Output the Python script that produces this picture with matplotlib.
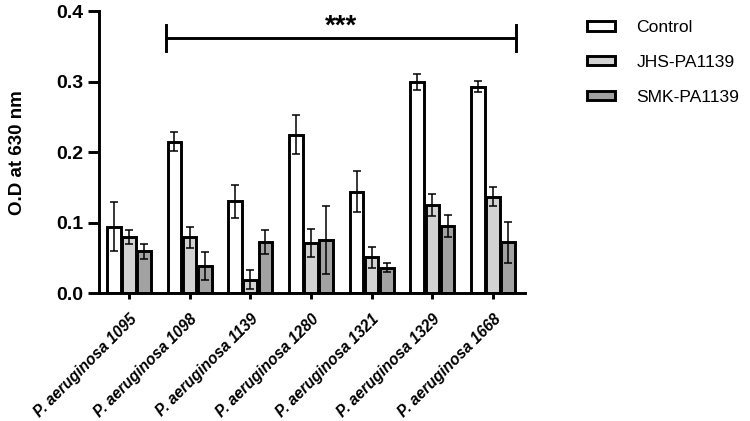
import matplotlib
matplotlib.use("Agg")
import matplotlib.pyplot as plt
import matplotlib.transforms as mtransforms
import numpy as np
from matplotlib.patches import Patch

plt.rcParams['font.family'] = ['Liberation Sans', 'DejaVu Sans']

categories = ["P. aeruginosa 1095", "P. aeruginosa 1098", "P. aeruginosa 1139",
              "P. aeruginosa 1280", "P. aeruginosa 1321", "P. aeruginosa 1329",
              "P. aeruginosa 1668"]
series_names = ["Control", "JHS-PA1139", "SMK-PA1139"]
control = [0.094, 0.215, 0.130, 0.225, 0.144, 0.300, 0.293]
control_err = [0.035, 0.013, 0.024, 0.028, 0.029, 0.011, 0.008]
jhs = [0.079, 0.079, 0.019, 0.071, 0.051, 0.125, 0.137]
jhs_err = [0.010, 0.015, 0.013, 0.020, 0.015, 0.015, 0.013]
smk = [0.059, 0.038, 0.072, 0.075, 0.036, 0.095, 0.072]
smk_err = [0.011, 0.020, 0.017, 0.048, 0.006, 0.016, 0.029]
colors = ["#ffffff", "#d2d2d2", "#a2a2a2"]
yticks = [0.0, 0.1, 0.2, 0.3, 0.4]
sig_text = "***"

fig = plt.figure(figsize=(7.5, 4.21), dpi=100)
ax = fig.add_axes([0.132, 0.304, 0.568, 0.669])

x = np.arange(len(categories))
w = 0.225
offs = [-0.25, 0.0, 0.25]
lw = 2.1
for vals, errs, c, o, name in zip([control, jhs, smk], [control_err, jhs_err, smk_err],
                                  colors, offs, series_names):
    ax.bar(x + o, vals, width=w, color=c, edgecolor='black', linewidth=lw, label=name, zorder=2)
    ax.errorbar(x + o, vals, yerr=errs, fmt='none', ecolor='black', elinewidth=1.1,
                capsize=3, capthick=1.1, zorder=3)

ax.set_xlim(-0.494, 6.527)
ax.set_ylim(0, 0.4)
ax.set_yticks(yticks)
ax.set_yticklabels([f"{t:.1f}" for t in yticks], fontsize=14, fontweight='bold')
ax.set_xticks(x)
ax.set_xticklabels(categories, rotation=45, ha='right', rotation_mode='anchor',
                   fontsize=11.2, fontweight='bold', fontstyle='italic')
offset = mtransforms.ScaledTranslation(4 / 100, 0, fig.dpi_scale_trans)
for lab in ax.get_xticklabels():
    lab.set_transform(lab.get_transform() + offset)
ax.set_ylabel("O.D at 630 nm", fontsize=13.5, fontweight='bold')
ax.yaxis.set_label_coords(-0.172, 0.5)

for s in ['top', 'right']:
    ax.spines[s].set_visible(False)
for s in ['left', 'bottom']:
    ax.spines[s].set_linewidth(lw)
ax.tick_params(axis='y', width=lw, length=8, pad=3)
ax.tick_params(axis='x', width=lw, length=4, pad=9)

# significance bracket
x0 = x[1] + offs[0] - w / 2 - 0.02
x1 = x[6] + offs[2] + w / 2 + 0.02
ysig = 0.362
ax.plot([x0, x1], [ysig, ysig], color='black', lw=lw, clip_on=False)
ax.plot([x0, x0], [ysig - 0.0185, ysig + 0.0185], color='black', lw=lw, clip_on=False)
ax.plot([x1, x1], [ysig - 0.0185, ysig + 0.0185], color='black', lw=lw, clip_on=False)
ax.text((x0 + x1) / 2, 0.378, sig_text, ha='center', va='center', fontsize=20, fontweight='bold')

handles = [Patch(facecolor=c, edgecolor='black', linewidth=lw) for c in colors]
fig.legend(handles, series_names, loc='upper left', bbox_to_anchor=(0.762, 0.989),
           frameon=False, fontsize=12.6, handlelength=1.6, handleheight=0.45,
           labelspacing=1.12, handletextpad=1.2, borderpad=0.4)

fig.savefig("out.png", dpi=100)
